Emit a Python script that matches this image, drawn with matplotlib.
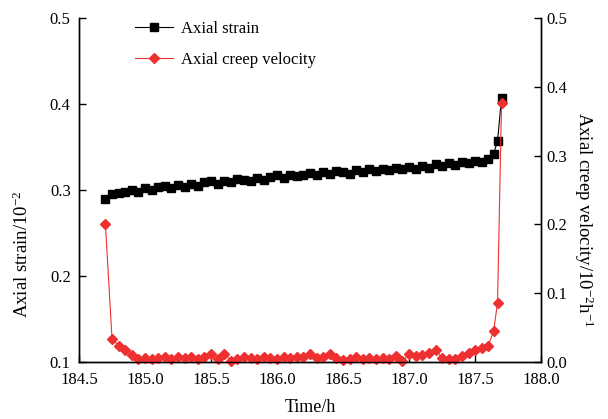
import matplotlib
matplotlib.use('Agg')
import matplotlib.pyplot as plt

plt.rcParams['font.family'] = ['Liberation Serif', 'DejaVu Serif']
plt.rcParams['mathtext.fontset'] = 'custom'
plt.rcParams['mathtext.rm'] = 'Liberation Serif'
plt.rcParams['mathtext.it'] = 'Liberation Serif:italic'

# time (h)
time = [184.70, 184.75, 184.80, 184.85, 184.90, 184.95, 185.00, 185.05, 185.10, 185.15,
        185.20, 185.25, 185.30, 185.35, 185.40, 185.45, 185.50, 185.55, 185.60, 185.65,
        185.70, 185.75, 185.80, 185.85, 185.90, 185.95, 186.00, 186.05, 186.10, 186.15,
        186.20, 186.25, 186.30, 186.35, 186.40, 186.45, 186.50, 186.55, 186.60, 186.65,
        186.70, 186.75, 186.80, 186.85, 186.90, 186.95, 187.00, 187.05, 187.10, 187.15,
        187.20, 187.25, 187.30, 187.35, 187.40, 187.45, 187.50, 187.55, 187.60, 187.64,
        187.67, 187.70]

# axial strain (10^-2)
strain = [0.290, 0.295, 0.296, 0.298, 0.300, 0.298, 0.302, 0.300, 0.303, 0.305,
          0.302, 0.306, 0.304, 0.307, 0.305, 0.309, 0.310, 0.307, 0.311, 0.309,
          0.313, 0.312, 0.310, 0.314, 0.312, 0.315, 0.317, 0.314, 0.318, 0.316,
          0.317, 0.320, 0.318, 0.321, 0.319, 0.322, 0.321, 0.319, 0.323, 0.321,
          0.324, 0.322, 0.325, 0.323, 0.326, 0.324, 0.327, 0.325, 0.328, 0.326,
          0.330, 0.328, 0.331, 0.329, 0.333, 0.331, 0.334, 0.333, 0.336, 0.342,
          0.357, 0.407]

# axial creep velocity (10^-2 h^-1)
velocity = [0.200, 0.033, 0.024, 0.017, 0.010, 0.005, 0.006, 0.005, 0.006, 0.007,
            0.005, 0.007, 0.006, 0.007, 0.005, 0.008, 0.012, 0.004, 0.012, 0.002,
            0.005, 0.007, 0.006, 0.004, 0.007, 0.006, 0.005, 0.007, 0.006, 0.008,
            0.007, 0.011, 0.006, 0.008, 0.012, 0.006, 0.003, 0.005, 0.008, 0.005,
            0.006, 0.005, 0.006, 0.005, 0.009, 0.001, 0.012, 0.009, 0.010, 0.013,
            0.018, 0.006, 0.004, 0.005, 0.009, 0.013, 0.017, 0.020, 0.024, 0.045,
            0.086, 0.376]

fig = plt.figure(figsize=(6.08, 4.19), dpi=100)
ax = fig.add_axes([0.130, 0.136, 0.760, 0.821])
ax2 = ax.twinx()

red = '#ee3030'
l1, = ax.plot(time, strain, '-', color='black', lw=0.8, marker='s', ms=5.5,
              mfc='black', mec='black', label='Axial strain', zorder=3)
l2, = ax2.plot(time, velocity, '-', color=red, lw=0.8, marker='D', ms=5,
               mfc=red, mec=red, label='Axial creep velocity', clip_on=False)

ax.set_xlim(184.5, 188.0)
ax.set_ylim(0.1, 0.5)
ax2.set_ylim(0.0, 0.5)
ax.set_xticks([184.5, 185.0, 185.5, 186.0, 186.5, 187.0, 187.5, 188.0])
ax.set_yticks([0.1, 0.2, 0.3, 0.4, 0.5])
ax2.set_yticks([0.0, 0.1, 0.2, 0.3, 0.4, 0.5])
fmt = matplotlib.ticker.FormatStrFormatter('%.1f')
ax.xaxis.set_major_formatter(fmt)
ax.yaxis.set_major_formatter(fmt)
ax2.yaxis.set_major_formatter(fmt)

for a in (ax, ax2):
    a.tick_params(direction='in', length=5, width=1, labelsize=12)
    for s in a.spines.values():
        s.set_linewidth(1.0)
ax.tick_params(axis='x', pad=7)
ax.tick_params(axis='y', pad=6)
ax.spines['top'].set_visible(False)
ax2.spines['top'].set_visible(False)

ax.set_xlabel('Time/h', fontsize=13, labelpad=8)
ax.set_ylabel('Axial strain/10$^{-2}$', fontsize=13.5)
ax.yaxis.set_label_coords(-0.123, 0.314)
ax2.set_ylabel('Axial creep velocity/10$^{-2}$h$^{-1}$', fontsize=13.5, rotation=270)
ax2.yaxis.set_label_coords(1.093, 0.413)
ax2.yaxis.label.set_va('center')
ax.yaxis.label.set_va('center')

ax.legend([l1, l2], ['Axial strain', 'Axial creep velocity'], loc='upper left',
          bbox_to_anchor=(0.089, 1.036), frameon=False, fontsize=12,
          handlelength=2.3, handletextpad=0.45, labelspacing=0.9)

fig.savefig('out.png', dpi=100)
